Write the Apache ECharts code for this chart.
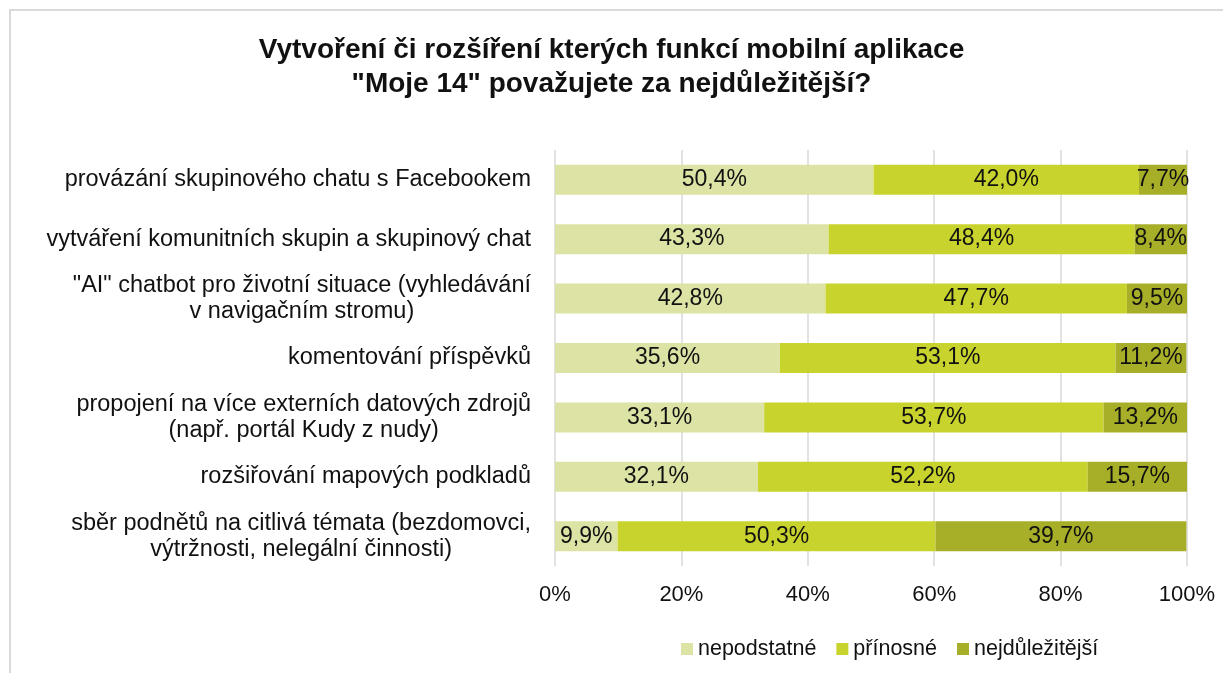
<!DOCTYPE html>
<html>
<head>
<meta charset="utf-8">
<script src="https://cdn.jsdelivr.net/npm/echarts@6/dist/echarts.min.js"></script>
<style>
  html, body { margin: 0; padding: 0; background: #fff; }
  #chart { width: 1223px; height: 673px; }
</style>
</head>
<body>
<div id="chart"></div>
<script>
// data
const categories = [
  'provázání skupinového chatu s Facebookem',
  'vytváření komunitních skupin a skupinový chat',
  '"AI" chatbot pro životní situace (vyhledávání\nv navigačním stromu)',
  'komentování příspěvků',
  'propojení na více externích datových zdrojů\n(např. portál Kudy z nudy)',
  'rozšiřování mapových podkladů',
  'sběr podnětů na citlivá témata (bezdomovci,\nvýtržnosti, nelegální činnosti)'
];
const seriesNames = ['nepodstatné', 'přínosné', 'nejdůležitější'];
const nepodstatne = [50.4, 43.3, 42.8, 35.6, 33.1, 32.1, 9.9];
const prinosne = [42.0, 48.4, 47.7, 53.1, 53.7, 52.2, 50.3];
const nejdulezitejsi = [7.7, 8.4, 9.5, 11.2, 13.2, 15.7, 39.7];
const xTicks = [0, 20, 40, 60, 80, 100];

const colors = ['#DCE3A5', '#C8D42D', '#A7AF28'];
const font = '"Liberation Sans", Arial, sans-serif';

const chart = echarts.init(document.getElementById('chart'));

function makeSeries(name, data, color) {
  return {
    name: name,
    type: 'bar',
    stack: 'total',
    barWidth: 30,
    itemStyle: { color: color },
    label: {
      show: true,
      position: 'inside',
      color: '#111',
      fontSize: 23,
      fontFamily: font,
      formatter: p => p.value.toFixed(1).replace('.', ',') + '%'
    },
    data: data
  };
}

const option = {
  backgroundColor: '#fff',
  animation: false,
  textStyle: { fontFamily: font },
  graphic: [{
    type: 'rect',
    shape: { x: 10, y: 10, width: 1300, height: 700 },
    style: { fill: 'none', stroke: '#D9D9D9', lineWidth: 2 },
    silent: true
  }],
  title: {
    text: 'Vytvoření či rozšíření kterých funkcí mobilní aplikace\n"Moje 14" považujete za nejdůležitější?',
    left: 'center',
    top: 28,
    textStyle: {
      fontFamily: font,
      fontSize: 28,
      fontWeight: 'bold',
      color: '#111',
      lineHeight: 34
    }
  },
  legend: {
    left: 676,
    top: 633,
    itemWidth: 12,
    itemHeight: 12,
    itemGap: 20,
    icon: 'rect',
    textStyle: { fontSize: 21.5, color: '#111', fontFamily: font },
    data: seriesNames
  },
  grid: {
    left: 555,
    right: 36,
    top: 150,
    bottom: 107,
    containLabel: false
  },
  xAxis: {
    type: 'value',
    min: 0,
    max: 100,
    interval: 20,
    axisLine: { show: false },
    axisTick: { show: false },
    splitLine: { show: true, lineStyle: { color: '#D9D9D9', width: 1.5 } },
    axisLabel: {
      fontSize: 22,
      color: '#111',
      margin: 18,
      fontFamily: font,
      customValues: xTicks,
      formatter: '{value}%'
    }
  },
  yAxis: {
    type: 'category',
    inverse: true,
    data: categories,
    axisLine: { show: false },
    axisTick: { show: false },
    axisLabel: {
      margin: 24,
      fontSize: 23.5,
      color: '#111',
      fontFamily: font,
      lineHeight: 26,
      formatter: v => v.split('\n').map(l => '{c|' + l + '}').join('\n'),
      rich: {
        c: { align: 'center', fontSize: 23.5, color: '#111', fontFamily: font, lineHeight: 26 }
      }
    }
  },
  series: [
    makeSeries(seriesNames[0], nepodstatne, colors[0]),
    makeSeries(seriesNames[1], prinosne, colors[1]),
    makeSeries(seriesNames[2], nejdulezitejsi, colors[2])
  ]
};

chart.setOption(option);
</script>
</body>
</html>
